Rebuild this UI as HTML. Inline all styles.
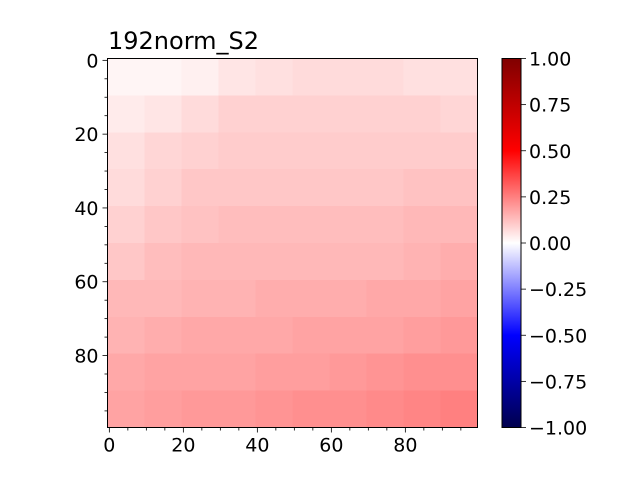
<!DOCTYPE html>
<html><head><meta charset="utf-8"><style>
html,body{margin:0;padding:0;background:#fff}
svg{display:block;font-family:"DejaVu Sans","Liberation Sans",sans-serif}
</style></head><body>
<svg id="chart" width="640" height="480" viewBox="0 0 640 480" xmlns="http://www.w3.org/2000/svg">
<defs>
<linearGradient id="seis" x1="0" y1="1" x2="0" y2="0">
<stop offset="0" stop-color="rgb(0,0,77)"/>
<stop offset="0.25" stop-color="rgb(0,0,255)"/>
<stop offset="0.5" stop-color="rgb(255,255,255)"/>
<stop offset="0.75" stop-color="rgb(255,0,0)"/>
<stop offset="1" stop-color="rgb(128,0,0)"/>
</linearGradient>
</defs>
<text x="108" y="49" font-size="24">192norm_S2</text>
<g id="cells" shape-rendering="crispEdges"></g>
<rect x="107.5" y="58.5" width="370" height="369" fill="none" stroke="#000" stroke-width="1"/>
<g id="axes"></g>
<rect x="502" y="58.5" width="19" height="369" fill="url(#seis)" stroke="#000" stroke-width="1"/>
<g id="cbar"></g>
</svg>
<script>
// coarse blocks (10x10 source cells each), rows top→bottom
const gridSize = 100;
const blockRows = [
[0.02,0.02,0.03,0.05,0.06,0.07,0.07,0.07,0.06,0.06],
[0.04,0.05,0.07,0.09,0.09,0.09,0.09,0.09,0.09,0.08],
[0.06,0.08,0.09,0.10,0.10,0.10,0.10,0.10,0.10,0.10],
[0.07,0.09,0.11,0.11,0.11,0.11,0.11,0.11,0.12,0.12],
[0.09,0.11,0.12,0.13,0.13,0.13,0.13,0.13,0.14,0.14],
[0.11,0.13,0.14,0.14,0.14,0.14,0.14,0.14,0.15,0.16],
[0.14,0.14,0.15,0.15,0.16,0.16,0.16,0.17,0.17,0.18],
[0.15,0.16,0.17,0.17,0.17,0.18,0.18,0.18,0.19,0.20],
[0.17,0.18,0.18,0.18,0.19,0.19,0.20,0.21,0.22,0.22],
[0.18,0.19,0.20,0.20,0.21,0.22,0.22,0.23,0.24,0.25]
];
const xTicks = [0,20,40,60,80];
const yTicks = [0,20,40,60,80];
const cbarTicks = [1.00,0.75,0.50,0.25,0.00,-0.25,-0.50,-0.75,-1.00];

const NS='http://www.w3.org/2000/svg';
const X0=107.5,W=370,Y0=58.5,H=369;
const cw=W/gridSize, ch=H/gridSize;
const xPos=i=>X0+i*cw; const yPos=j=>Y0+j*ch;
function color(v){
  const t=(v+1)/2; const st=[[0,[0,0,77]],[0.25,[0,0,255]],[0.5,[255,255,255]],[0.75,[255,0,0]],[1,[128,0,0]]];
  for(let k=0;k<st.length-1;k++){const a=st[k],b=st[k+1];
    if(t<=b[0]){const f=(t-a[0])/(b[0]-a[0]);return 'rgb('+a[1].map((c,m)=>Math.round(c+(b[1][m]-c)*f)).join(',')+')';}}
  return 'rgb(128,0,0)';
}
function mk(tag,attrs,parent){const e=document.createElementNS(NS,tag);for(const k in attrs)e.setAttribute(k,attrs[k]);parent.appendChild(e);return e;}
const cells=document.getElementById('cells');
const bs=gridSize/blockRows.length;
blockRows.forEach((row,r)=>row.forEach((v,c)=>{
  const e=mk('rect',{x:xPos(c*bs),y:yPos(r*bs),width:cw*bs+0.5,height:ch*bs+0.5,fill:color(v)},cells);
  
  
}));
const axes=document.getElementById('axes');
for(let i=0;i<gridSize;i+=5){
  const major=i%20===0; const L=major?5:3;
  const xc=xPos(i+0.5), yc=yPos(i+0.5);
  const t1=mk('line',{x1:xc,x2:xc,y1:Y0+H,y2:Y0+H+L,stroke:'#000','stroke-width':0.8},axes);
  
  
  const t2=mk('line',{x1:X0,x2:X0-L,y1:yc,y2:yc,stroke:'#000','stroke-width':0.8},axes);
  
  
}
xTicks.forEach(v=>{const e=mk('text',{x:xPos(v+0.5),y:Y0+H+24,'font-size':19,'text-anchor':'middle'},axes);e.textContent=v;
  
  });
yTicks.forEach(v=>{const e=mk('text',{x:X0-9,y:yPos(v+0.5)+7,'font-size':19,'text-anchor':'end'},axes);e.textContent=v;
  
  });
const cb=document.getElementById('cbar');
cbarTicks.forEach(v=>{const y=Y0+(1-v)/2*H;
  const l=mk('line',{x1:521,x2:526,y1:y,y2:y,stroke:'#000','stroke-width':0.8},cb);
  
  
  const e=mk('text',{x:529,y:y+7,'font-size':19},cb);e.textContent=(v<0?'\u2212':'')+Math.abs(v).toFixed(2);
  
  });
</script>
</body></html>
